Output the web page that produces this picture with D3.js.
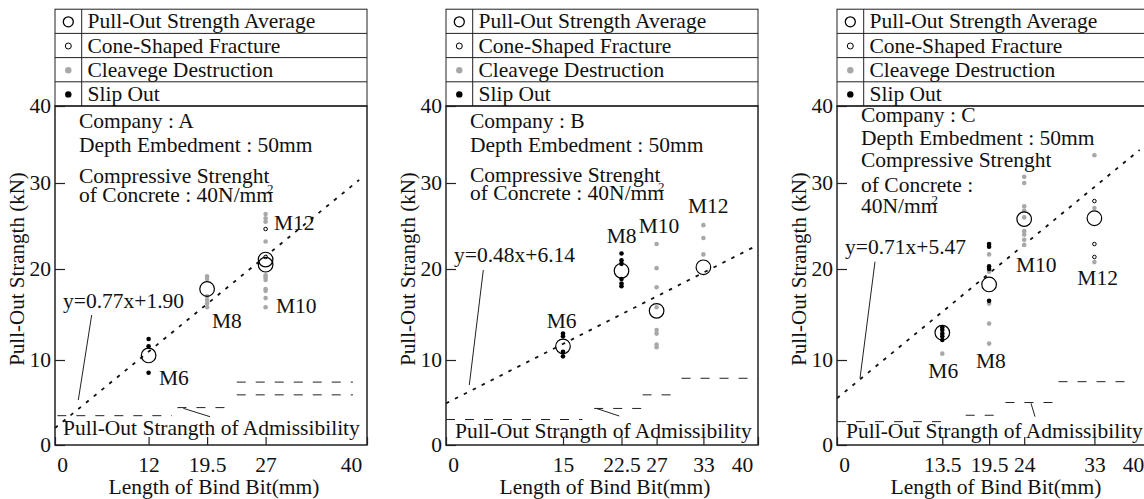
<!DOCTYPE html>
<html lang="en">
<head>
  <meta charset="UTF-8">
  <title>Pull-Out Strength by Length of Bind Bit</title>
  <script src="https://d3js.org/d3.v7.min.js"></script>
  <style>
    body {
      margin: 0;
      background: #fff;
    }

    svg {
      display: block;
    }

    svg text {
      fill: #111;
      font-family: "Liberation Serif", "DejaVu Serif", serif;
      font-size: 21.5px;
    }

    svg text.y-title {
      font-size: 21px;
    }

    .frame {
      fill: none;
      stroke: #222;
      stroke-width: 1.5;
    }

    .legend-line {
      stroke: #222;
      stroke-width: 1;
    }

    .axis line {
      stroke: #222;
      stroke-width: 1.2;
    }

    .fit {
      fill: none;
      stroke: #111;
      stroke-width: 1.8;
      stroke-dasharray: 3.5 6.5;
    }

    .adm {
      stroke: #222;
      stroke-width: 1;
      stroke-dasharray: 9 10;
    }

    .leader {
      stroke: #222;
      stroke-width: 1;
    }
  </style>
</head>

<body>
  <div id="chart"></div>
  <script>
    const yTicks = [0, 10, 20, 30, 40];
    const legendItems = ["Pull-Out Strength Average", "Cone-Shaped Fracture", "Cleavege Destruction", "Slip Out"];
    const sizeNames = ["M6", "M8", "M10", "M12"];

    // company A  -- [length of bind bit, pull-out strength kN]
    const ticksA = [0, 12, 19.5, 27, 40];
    const avgA = [[12, 10.5], [19.5, 17.8], [27, 21.1], [27, 20.5]];
    const coneA = [[27, 24.65], [27, 21.4]];
    const cleaveA = [[19.5, 19.2], [19.5, 18.9], [19.5, 17.0], [19.5, 16.6], [19.5, 16.2], [19.5, 15.8],
      [27, 26.4], [27, 25.9], [27, 25.5], [27, 23.2], [27, 19.3], [27, 19.1], [27, 18.8], [27, 17.8],
      [27, 17.6], [27, 16.8], [27, 15.8]];
    const slipA = [[12, 12.3], [12, 11.5], [12, 8.5]];
    const fitA = [[0, 2.0], [39, 30.4]];
    const admA = [[0.3, 15, 3.45], [15.7, 22.4, 4.4], [23.3, 38.2, 7.4], [23.3, 38.2, 5.9]];

    // company B
    const ticksB = [0, 15, 22.5, 27, 33, 40];
    const avgB = [[15, 11.5], [22.5, 19.8], [27, 15.4], [33, 20.2]];
    const coneB = [];
    const cleaveB = [[27, 22.9], [27, 20.1], [27, 18.0], [27, 15.8], [27, 13.3], [27, 12.9], [27, 11.7],
      [27, 11.4], [33, 25.1], [33, 23.6], [33, 21.7]];
    const slipB = [[15, 12.9], [15, 12.6], [15, 10.9], [15, 10.4], [22.5, 21.8], [22.5, 21.0],
      [22.5, 20.6], [22.5, 18.9], [22.5, 18.4], [22.5, 18.1]];
    const fitB = [[0, 4.9], [40, 22.8]];
    const admB = [[0, 17.5, 3.0], [19.0, 25.2, 4.3], [25.2, 29.0, 5.9], [30.2, 40, 7.85]];

    // company C
    const ticksC = [0, 13.5, 19.5, 24, 33, 40];
    const avgC = [[13.5, 13.0], [19.5, 18.3], [24, 25.8], [33, 25.9]];
    const coneC = [[33, 27.9], [33, 22.9], [33, 21.4]];
    const cleaveC = [[13.5, 10.7], [19.5, 21.7], [19.5, 19.7], [19.5, 16.2], [19.5, 14.0], [19.5, 11.8],
      [24, 30.8], [24, 30.0], [24, 27.3], [24, 26.8], [24, 26.0], [24, 24.4], [24, 24.0], [24, 23.4],
      [24, 22.8], [33, 33.6], [33, 27.1], [33, 20.8]];
    const slipC = [[13.5, 13.6], [13.5, 13.3], [13.5, 12.9], [13.5, 12.6], [13.5, 12.2], [19.5, 22.9],
      [19.5, 22.6], [19.5, 20.3], [19.5, 20.0], [19.5, 16.5]];
    const fitC = [[0, 5.5], [38.8, 34.3]];
    const admC = [[0, 14.6, 2.75], [16.5, 20.4, 3.5], [21.6, 28.2, 5.0], [28.4, 37.7, 7.45]];

    const panels = [
      {
        ticks: ticksA, avg: avgA, cone: coneA, cleave: cleaveA, slip: slipA, fit: fitA, adm: admA,
        eq: "y=0.77x+1.90",
        notes: ["Company : A", "Depth Embedment : 50mm", "Compressive Strenght", "of Concrete : 40N/mm"],
        // layout (px offsets from plot left, absolute baselines)
        left: 55,
        noteY: [128, 152, 183, 202],
        sizePos: [[104, 385], [157, 328], [221, 313], [219, 230]],
        eqPos: [8, 308], eqLeader: [[36.7, 315], [23.3, 400]],
        admPos: [8, 435], admLeader: [[128.3, 408.3], [155, 416.7]]
      },
      {
        ticks: ticksB, avg: avgB, cone: coneB, cleave: cleaveB, slip: slipB, fit: fitB, adm: admB,
        eq: "y=0.48x+6.14",
        notes: ["Company : B", "Depth Embedment : 50mm", "Compressive Strenght", "of Concrete : 40N/mm"],
        left: 446,
        noteY: [128, 152, 182, 200],
        sizePos: [[100.7, 328], [160.7, 242.7], [192.7, 232.7], [242, 213]],
        eqPos: [8, 261.5], eqLeader: [[37.3, 270], [23.3, 385]],
        admPos: [9, 438], admLeader: [[150, 408.3], [173.3, 416]]
      },
      {
        ticks: ticksC, avg: avgC, cone: coneC, cleave: cleaveC, slip: slipC, fit: fitC, adm: admC,
        eq: "y=0.71x+5.47",
        notes: ["Company : C", "Depth Embedment : 50mm", "Compressive Strenght", "of Concrete :", "40N/mm"],
        left: 837,
        noteY: [122, 145, 167, 192, 213],
        sizePos: [[91.3, 378], [139, 368], [179, 272], [240.3, 285]],
        eqPos: [8, 254], eqLeader: [[38, 261.7], [23, 378.3]],
        admPos: [9, 438], admLeader: [[194, 403.3], [198, 416.7]]
      }
    ];

    const W = 1144, H = 499;
    const plotTop = 106, plotBottom = 445, plotWidth = 312, rowH = 24.2;
    const grey = "#a8a8a8";

    const svg = d3.select("#chart")
      .append("svg")
      .attr("width", W)
      .attr("height", H);

    panels.forEach(function (p) {
      const g = svg.append("g");
      const x = d3.scaleLinear().domain([0, 40]).range([p.left, p.left + plotWidth]);
      // y ticks in the original are not evenly spaced, so use a piecewise scale
      const y = d3.scaleLinear().domain(yTicks).range([plotBottom, 360, 269, 183, plotTop]);

      // admissibility steps
      g.selectAll(".adm")
        .data(p.adm)
        .enter().append("line")
        .attr("class", "adm")
        .attr("x1", d => x(d[0]))
        .attr("x2", d => x(d[1]))
        .attr("y1", d => y(d[2]))
        .attr("y2", d => y(d[2]));

      // regression line
      g.append("path")
        .datum(p.fit)
        .attr("class", "fit")
        .attr("d", d3.line().x(d => x(d[0])).y(d => y(d[1])));

      g.selectAll(".cleave")
        .data(p.cleave)
        .enter().append("circle")
        .attr("cx", d => x(d[0]))
        .attr("cy", d => y(d[1]))
        .attr("r", 2.3)
        .attr("fill", grey);

      g.selectAll(".slip")
        .data(p.slip)
        .enter().append("circle")
        .attr("cx", d => x(d[0]))
        .attr("cy", d => y(d[1]))
        .attr("r", 2.3)
        .attr("fill", "#000");

      g.selectAll(".cone")
        .data(p.cone)
        .enter().append("circle")
        .attr("cx", d => x(d[0]))
        .attr("cy", d => y(d[1]))
        .attr("r", 1.8)
        .attr("fill", "#fff")
        .attr("stroke", "#000")
        .attr("stroke-width", 1);

      g.selectAll(".avg")
        .data(p.avg)
        .enter().append("circle")
        .attr("cx", d => x(d[0]))
        .attr("cy", d => y(d[1]))
        .attr("r", 7.3)
        .attr("fill", "none")
        .attr("stroke", "#000")
        .attr("stroke-width", 1.2);

      // axes
      const xAxis = g.append("g")
        .attr("class", "axis")
        .attr("transform", "translate(0," + plotBottom + ")")
        .call(d3.axisBottom(x).tickValues(p.ticks).tickFormat(d => String(d))
          .tickSizeInner(-8).tickSizeOuter(0).tickPadding(12));
      xAxis.select(".domain").remove();
      xAxis.selectAll("text")
        .attr("dx", d => d === 0 ? 7 : (d === 40 ? -16 : 0));

      const yAxis = g.append("g")
        .attr("class", "axis")
        .attr("transform", "translate(" + p.left + ",0)")
        .call(d3.axisLeft(y).tickValues(yTicks).tickFormat(d => String(d))
          .tickSizeInner(-10).tickSizeOuter(0).tickPadding(4));
      yAxis.select(".domain").remove();

      g.append("rect")
        .attr("class", "frame")
        .attr("x", p.left)
        .attr("y", plotTop)
        .attr("width", plotWidth)
        .attr("height", plotBottom - plotTop);

      // axis titles
      g.append("text")
        .attr("x", p.left + plotWidth / 2 + 3)
        .attr("y", 494)
        .attr("text-anchor", "middle")
        .text("Length of Bind Bit(mm)");

      g.append("text")
        .attr("class", "y-title")
        .attr("transform", "translate(" + (p.left - 31) + "," + 269 + ") rotate(-90)")
        .attr("text-anchor", "middle")
        .text("Pull-Out Strangth (kN)");

      // legend table
      const legTop = plotTop - 4 * rowH;
      const legend = g.append("g");
      legend.append("rect")
        .attr("x", p.left).attr("y", legTop)
        .attr("width", plotWidth).attr("height", 4 * rowH)
        .attr("fill", "none").attr("class", "legend-line");
      legend.selectAll(".row")
        .data(d3.range(1, 4))
        .enter().append("line")
        .attr("class", "legend-line")
        .attr("x1", p.left).attr("x2", p.left + plotWidth)
        .attr("y1", i => legTop + i * rowH).attr("y2", i => legTop + i * rowH);
      legend.append("line")
        .attr("class", "legend-line")
        .attr("x1", p.left + 26.7).attr("x2", p.left + 26.7)
        .attr("y1", legTop).attr("y2", plotTop);
      legend.selectAll(".leg-text")
        .data(legendItems)
        .enter().append("text")
        .attr("x", p.left + 32.5)
        .attr("y", (d, i) => legTop + (i + 1) * rowH - 5)
        .text(d => d);

      const sx = p.left + 13.3;
      const sy = i => legTop + (i + 0.5) * rowH + 0.5;
      legend.append("circle").attr("cx", sx).attr("cy", sy(0)).attr("r", 5)
        .attr("fill", "none").attr("stroke", "#000").attr("stroke-width", 1.3);
      legend.append("circle").attr("cx", sx).attr("cy", sy(1)).attr("r", 3)
        .attr("fill", "none").attr("stroke", "#000").attr("stroke-width", 1);
      legend.append("circle").attr("cx", sx).attr("cy", sy(2)).attr("r", 3.2).attr("fill", grey);
      legend.append("circle").attr("cx", sx).attr("cy", sy(3)).attr("r", 3.2).attr("fill", "#000");

      // notes
      p.notes.forEach(function (line, i) {
        const t = g.append("text")
          .attr("x", p.left + 24)
          .attr("y", p.noteY[i])
          .text(line);
        if (i === p.notes.length - 1) {
          t.append("tspan")
            .attr("dx", -6)
            .attr("dy", -9)
            .style("font-size", "13px")
            .text("2");
        }
      });

      // bolt size labels
      g.selectAll(".size")
        .data(sizeNames)
        .enter().append("text")
        .attr("x", (d, i) => p.left + p.sizePos[i][0])
        .attr("y", (d, i) => p.sizePos[i][1])
        .text(d => d);

      // equation + leader
      g.append("text")
        .attr("x", p.left + p.eqPos[0])
        .attr("y", p.eqPos[1])
        .text(p.eq);
      g.append("line")
        .attr("class", "leader")
        .attr("x1", p.left + p.eqLeader[0][0]).attr("y1", p.eqLeader[0][1])
        .attr("x2", p.left + p.eqLeader[1][0]).attr("y2", p.eqLeader[1][1]);

      // admissibility label + leader
      g.append("text")
        .attr("x", p.left + p.admPos[0])
        .attr("y", p.admPos[1])
        .text("Pull-Out Strangth of Admissibility");
      g.append("line")
        .attr("class", "leader")
        .attr("x1", p.left + p.admLeader[0][0]).attr("y1", p.admLeader[0][1])
        .attr("x2", p.left + p.admLeader[1][0]).attr("y2", p.admLeader[1][1]);
    });
  </script>
</body>

</html>
